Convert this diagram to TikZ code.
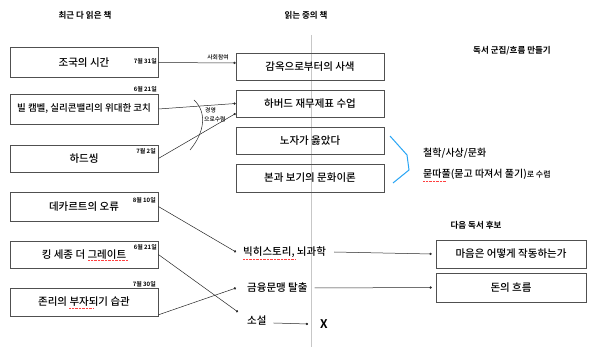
\documentclass[tikz,border=0pt]{standalone}
\usepackage{fontspec}
\setmainfont{Noto Sans CJK KR Medium}[BoldFont={Noto Sans CJK KR Bold}]
\usetikzlibrary{arrows.meta}
\definecolor{brk}{RGB}{40,165,245}
\definecolor{edge}{RGB}{80,80,80}
\begin{document}
\begin{tikzpicture}[x=1pt,y=-1pt,
  book/.style={draw=edge, line width=0.7pt, minimum width=148pt, inner sep=0pt, font=\fontsize{10.5}{12}\selectfont},
  nbox/.style={book, minimum width=150pt},
  datelbl/.style={font=\fontsize{6}{7}\selectfont\bfseries, inner sep=0pt, anchor=east},
  head/.style={font=\fontsize{8.5}{10}\selectfont\bfseries, inner sep=0pt},
  lbl/.style={font=\fontsize{10.5}{12}\selectfont, inner sep=0pt, anchor=west},
  conn/.style={draw=black!85, line width=0.5pt, -{Circle[length=2.3pt]}},
  small/.style={font=\fontsize{5.8}{6.5}\selectfont, inner sep=0pt},
  squig/.style={draw=red!75, line width=0.5pt, dash pattern=on 0.8pt off 0.6pt}
]
\useasboundingbox (0,0) rectangle (600,347);
\fill[white] (0,0) rectangle (600,347);

% divider
\draw[black!22, line width=0.5pt] (311,35) -- (311,347);

% headings
\node[head] (h1) at (85,15) {최근 다 읽은 책};
\node[head] (h2) at (306,15) {읽는 중의 책};
\node[head] (h3) at (512,51) {독서 군집/흐름 만들기};
\node[head] (h4) at (476,225) {다음 독서 후보};

% left column
\node[book, minimum height=30pt] (a1) at (84,62.5) {조국의 시간};
\node[book, minimum height=30pt, font=\fontsize{9.5}{11}\selectfont] (a2) at (84,109) {빌 캠벨, 실리콘밸리의 위대한 코치};
\node[book, minimum height=27pt] (a3) at (84,158.5) {하드씽};
\node[book, minimum height=29pt] (a4) at (84,206.5) {데카르트의 오류};
\node[book, minimum height=27pt] (a5) at (84,254.5) {킹 세종 더 그레이트};
\node[book, minimum height=28pt] (a6) at (84,302) {존리의 부자되기 습관};

\node[datelbl] (d1) at (157,61) {7월 31일};
\node[datelbl] (d2) at (157,89) {6월 21일};
\node[datelbl] (d3) at (156,151) {7월 2일};
\node[datelbl] (d4) at (156,200) {8월 10일};
\node[datelbl] (d5) at (157,247) {6월 21일};
\node[datelbl] (d6) at (156,284) {7월 30일};

% middle column
\node[book, minimum height=27pt] (b1) at (310,66.5) {감옥으로부터의 사색};
\node[book, minimum height=27pt] (b2) at (310,103.5) {하버드 재무제표 수업};
\node[book, minimum height=27pt] (b3) at (310,140.5) {노자가 옳았다};
\node[book, minimum height=28pt] (b4) at (310,178) {본과 보기의 문화이론};

\node[lbl] (bh) at (243,252) {빅히스토리, 뇌과학};
\node[lbl] (gm) at (247,288) {금융문맹 탈출};
\node[lbl] (so) at (247,321) {소설};
\node[inner sep=0pt, font=\fontsize{12}{14}\selectfont\bfseries] (xx) at (324,324) {X};

% right column
\node[nbox, minimum height=28pt] (c1) at (511,254) {마음은 어떻게 작동하는가};
\node[nbox, minimum height=29pt] (c2) at (511,287.5) {돈의 흐름};

% cluster notes
\node[lbl, font=\fontsize{10}{12}\selectfont] (t1) at (423,153) {철학/사상/문화};
\node[lbl, font=\fontsize{10}{12}\selectfont] (t2) at (423,174) {묻따풀(묻고 따져서 풀기)\fontsize{8}{9}\selectfont 로 수렴};
\draw[brk, line width=1pt] (390,136) -- (407,155) -- (409,170) -- (393,183);

% connectors
\draw[conn] (a1.east) -- ([yshift=3.5pt]b1.west);
\node[small] (l1) at (218,57) {사회참여};
\draw[conn] (a2.east) -- (b2.west);
\draw[conn] (a3.east) -- ([yshift=-10pt]b2.west);
\draw[black!85, line width=0.5pt] (194,100) .. controls (207,112) and (205,132) .. (190,150);
\node[small, anchor=west] (l2) at (205,110) {경영};
\node[small, anchor=west] (l3) at (204,119) {으로수렴};

\draw[conn] (a4.east) -- ([xshift=-7pt]bh.west);
\draw[conn] (a5.east) -- ([xshift=-9pt,yshift=9pt]so.west);
\draw[conn] ([yshift=1.5pt]a6.south east) -- ([xshift=-11pt]gm.west);

\draw[conn] ([xshift=8pt]bh.east) -- ([xshift=-4pt]c1.west);
\draw[conn] ([xshift=7pt]gm.east) -- ([xshift=-4pt]c2.west);
\draw[conn] ([xshift=7pt,yshift=-2pt]so.east) -- ([xshift=-12pt]xx.west);

% spell-check underlines
\draw[squig] (88,260.5) -- (128,260.5);
\draw[squig] (69,308.5) -- (94,308.5);
\draw[squig] (243,259.5) -- (295,259.5);
\draw[squig] (423,181.5) -- (446,181.5);
\end{tikzpicture}
\end{document}
